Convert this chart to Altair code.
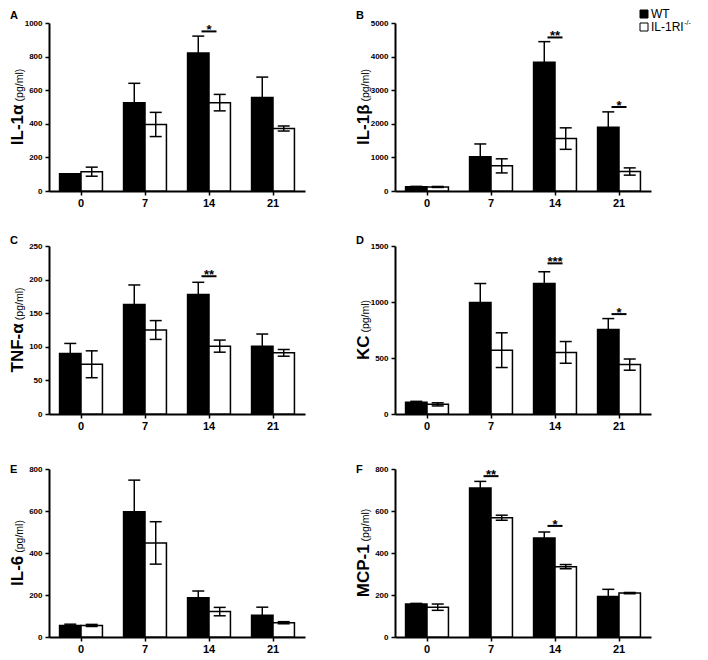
import altair as alt
import pandas as pd

FONT = "Liberation Sans"

days = ["0", "7", "14", "21"]
groups = ["WT", "IL-1RI-/-"]

# A: IL-1alpha
il1a_wt = [102, 525, 822, 557]
il1a_wt_err = [0, 116, 100, 121]
il1a_ko = [115, 396, 526, 372]
il1a_ko_err = [27, 72, 49, 15]
il1a_sig_days = ["14"]
il1a_sig_vals = [950]
il1a_sig_txt = ["*"]

# B: IL-1beta
il1b_wt = [128, 1020, 3835, 1895]
il1b_wt_err = [10, 380, 610, 460]
il1b_ko = [120, 748, 1560, 580]
il1b_ko_err = [15, 210, 320, 108]
il1b_sig_days = ["14", "21"]
il1b_sig_vals = [4570, 2500]
il1b_sig_txt = ["**", "*"]

# C: TNF-alpha
tnf_wt = [90, 163, 178, 101]
tnf_wt_err = [15, 29, 18, 18]
tnf_ko = [74, 125, 101, 91]
tnf_ko_err = [20, 14, 9, 5]
tnf_sig_days = ["14"]
tnf_sig_vals = [205]
tnf_sig_txt = ["**"]

# D: KC
kc_wt = [105, 995, 1165, 755]
kc_wt_err = [8, 170, 105, 97]
kc_ko = [86, 570, 550, 441]
kc_ko_err = [14, 155, 97, 50]
kc_sig_days = ["14", "21"]
kc_sig_vals = [1345, 892]
kc_sig_txt = ["***", "*"]

# E: IL-6
il6_wt = [55, 596, 187, 104]
il6_wt_err = [6, 151, 32, 38]
il6_ko = [55, 448, 121, 68]
il6_ko_err = [5, 101, 20, 5]
il6_sig_days = []
il6_sig_vals = []
il6_sig_txt = []

# F: MCP-1
mcp_wt = [157, 710, 472, 193]
mcp_wt_err = [3, 31, 28, 34]
mcp_ko = [142, 568, 335, 209]
mcp_ko_err = [15, 12, 10, 3]
mcp_sig_days = ["7", "14"]
mcp_sig_vals = [766, 529]
mcp_sig_txt = ["**", "*"]

W, H = 256, 168

BOLD_W = {"I": .278, "L": .611, "-": .333, "1": .556, "α": .62, "β": .6, "T": .611,
          "N": .722, "F": .611, "K": .722, "C": .722, "6": .556, "M": .833, "P": .667}
REG_W = {"(": .333, ")": .333, "p": .556, "g": .556, "/": .278, "m": .833, "l": .222,
         "I": .278, "L": .556, "-": .333, "1": .556, "R": .722}


def tw(s, size, table):
    return sum(table.get(c, 0.6) for c in s) * size


def panel(letter, name, wt, wt_err, ko, ko_err, ymax, ystep,
          sig_days, sig_vals, sig_txt, letter_y, legend=False):
    df = pd.DataFrame({
        "day": days * 2,
        "group": [groups[0]] * 4 + [groups[1]] * 4,
        "value": wt + ko,
        "err": wt_err + ko_err,
    })
    df["lo"] = df["value"] - df["err"]
    df["hi"] = df["value"] + df["err"]

    x_enc = alt.X("day:N", sort=days, title=None,
                  scale=alt.Scale(paddingInner=0.33, paddingOuter=0.165),
                  axis=alt.Axis(labelAngle=0, labelFont=FONT, labelFontSize=11,
                                labelFontWeight="bold", labelColor="black",
                                domainColor="black", domainWidth=2, tickColor="black",
                                tickWidth=1.5, tickSize=4, labelPadding=2))
    xo = alt.XOffset("group:N", sort=groups)
    tick_vals = list(range(0, ymax + 1, ystep))
    y_axis = alt.Axis(values=tick_vals, tickCount=len(tick_vals), grid=False,
                      format="d", labelOverlap=False, labelFlush=False,
                      labelFont=FONT, labelFontSize=8, labelFontWeight="bold",
                      labelColor="black", domainColor="black", domainWidth=2,
                      tickColor="black", tickWidth=1.5, tickSize=4, labelPadding=3)
    y_scale = alt.Scale(domain=[0, ymax], nice=False)

    def yf(field):
        return alt.Y(field, title=None, scale=y_scale, axis=y_axis)

    base = alt.Chart(df)
    bars = base.mark_bar(stroke="black", strokeWidth=1.5).encode(
        x=x_enc, xOffset=xo, y=yf("value:Q"),
        fill=alt.Fill("group:N", scale=alt.Scale(domain=groups, range=["black", "white"]),
                      legend=None))
    whisk = base.mark_rule(color="black", strokeWidth=1.5).encode(
        x=x_enc, xOffset=xo, y=yf("lo:Q"), y2="hi:Q")
    cap_hi = base.mark_tick(orient="horizontal", color="black", size=12, thickness=1.5,
                            opacity=1).encode(x=x_enc, xOffset=xo, y=yf("hi:Q"))
    cap_lo = base.mark_tick(orient="horizontal", color="black", size=12, thickness=1.5,
                            opacity=1).encode(x=x_enc, xOffset=xo, y=yf("lo:Q"))
    layers = [bars, whisk, cap_hi, cap_lo]

    if sig_days:
        sdf = pd.DataFrame({"day": sig_days, "y": sig_vals, "t": sig_txt})
        sbase = alt.Chart(sdf)
        layers.append(sbase.mark_tick(orient="horizontal", color="black", size=15,
                                      thickness=2, opacity=1).encode(
            x=x_enc, y=yf("y:Q")))
        layers.append(sbase.mark_text(baseline="alphabetic", dy=3, fontSize=13,
                                      fontWeight="bold", font=FONT, color="black").encode(
            x=x_enc, y=yf("y:Q"), text="t:N"))

    one = alt.Chart(pd.DataFrame({"k": [0]}))
    layers.append(one.mark_text(text=letter, align="left", baseline="top", fontSize=11,
                                fontWeight="bold", font=FONT, color="black").encode(
        x=alt.value(-39), y=alt.value(letter_y)))

    big_size, unit_size, gap = 17, 10.5, 3
    unit = "(pg/ml)"
    w1 = tw(name, big_size, BOLD_W)
    w2 = tw(unit, unit_size, REG_W)
    total = w1 + gap + w2
    bottom = H / 2 + total / 2
    layers.append(one.mark_text(text=name, angle=270, align="left", baseline="alphabetic",
                                fontSize=big_size, fontWeight="bold", font=FONT,
                                color="black").encode(
        x=alt.value(-26), y=alt.value(bottom)))
    layers.append(one.mark_text(text=unit, angle=270, align="left", baseline="alphabetic",
                                fontSize=unit_size, font=FONT, color="black").encode(
        x=alt.value(-26), y=alt.value(bottom - w1 - gap)))

    if legend:
        lx, ly1, ly2 = 249, -9, 4
        layers.append(one.mark_square(size=64, fill="black", stroke="black",
                                      strokeWidth=1, opacity=1).encode(
            x=alt.value(lx), y=alt.value(ly1)))
        layers.append(one.mark_square(size=64, fill="white", stroke="black",
                                      strokeWidth=1, opacity=1).encode(
            x=alt.value(lx), y=alt.value(ly2)))
        layers.append(one.mark_text(text="WT", align="left", baseline="middle", fontSize=12,
                                    font=FONT, color="black").encode(
            x=alt.value(lx + 7), y=alt.value(ly1)))
        layers.append(one.mark_text(text="IL-1RI", align="left", baseline="middle",
                                    fontSize=12, font=FONT, color="black").encode(
            x=alt.value(lx + 7), y=alt.value(ly2)))
        layers.append(one.mark_text(text="-/-", align="left", baseline="middle",
                                    fontSize=7, font=FONT, color="black").encode(
            x=alt.value(lx + 7 + tw("IL-1RI", 12, REG_W) + 0.5), y=alt.value(ly2 - 4)))

    return alt.layer(*layers).properties(width=W, height=H)


pA = panel("A", "IL-1α", il1a_wt, il1a_wt_err, il1a_ko, il1a_ko_err, 1000, 200,
           il1a_sig_days, il1a_sig_vals, il1a_sig_txt, -13)
pB = panel("B", "IL-1β", il1b_wt, il1b_wt_err, il1b_ko, il1b_ko_err, 5000, 1000,
           il1b_sig_days, il1b_sig_vals, il1b_sig_txt, -13, legend=True)
pC = panel("C", "TNF-α", tnf_wt, tnf_wt_err, tnf_ko, tnf_ko_err, 250, 50,
           tnf_sig_days, tnf_sig_vals, tnf_sig_txt, -11)
pD = panel("D", "KC", kc_wt, kc_wt_err, kc_ko, kc_ko_err, 1500, 500,
           kc_sig_days, kc_sig_vals, kc_sig_txt, -11)
pE = panel("E", "IL-6", il6_wt, il6_wt_err, il6_ko, il6_ko_err, 800, 200,
           il6_sig_days, il6_sig_vals, il6_sig_txt, -5)
pF = panel("F", "MCP-1", mcp_wt, mcp_wt_err, mcp_ko, mcp_ko_err, 800, 200,
           mcp_sig_days, mcp_sig_vals, mcp_sig_txt, -5)

chart = alt.concat(pA, pB, pC, pD, pE, pF, columns=2,
                   spacing={"row": 55, "column": 90}, bounds="flush").properties(
    padding=0, background="white"
).configure_view(stroke=None).configure_axis(labelOverlap=False)

chart.save("out.html", embed_options={"renderer": "svg", "actions": False})
